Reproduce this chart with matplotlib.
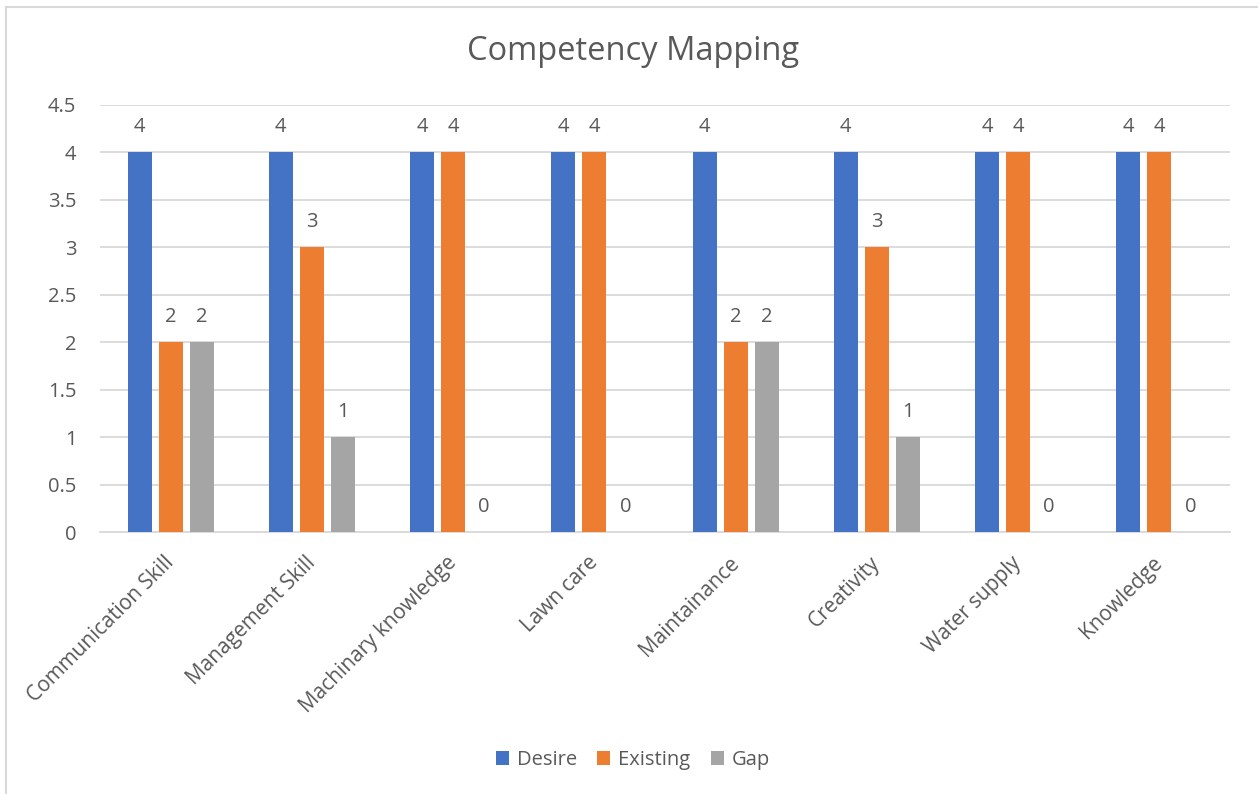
import matplotlib
matplotlib.use("Agg")
import matplotlib.pyplot as plt
from matplotlib.lines import Line2D
import numpy as np

# Chart data
categories = ["Communication Skill", "Management Skill", "Machinary knowledge",
              "Lawn care", "Maintainance", "Creativity", "Water supply", "Knowledge"]
desire = [4, 4, 4, 4, 4, 4, 4, 4]
existing = [2, 3, 4, 4, 2, 3, 4, 4]
gap = [2, 1, 0, 0, 2, 1, 0, 0]

series_names = ["Desire", "Existing", "Gap"]
series_colors = ["#4472C4", "#ED7D31", "#A5A5A5"]
yticks = [0, 0.5, 1, 1.5, 2, 2.5, 3, 3.5, 4, 4.5]

plt.rcParams["font.family"] = ["Open Sans", "DejaVu Sans"]
text_color = "#595959"
grid_color = "#D9D9D9"

W, H = 1258, 794
fig = plt.figure(figsize=(W / 100, H / 100), dpi=100)
fig.patch.set_facecolor("white")

ax = fig.add_axes([100 / W, 1 - 532 / H, (1230 - 100) / W, (532 - 105) / H])

x = np.arange(len(categories))
bar_w = 0.17
pitch = 0.22
offsets = [-pitch, 0, pitch]

for vals, name, col, off in zip([desire, existing, gap], series_names, series_colors, offsets):
    bars = ax.bar(x + off, vals, width=bar_w, color=col, label=name, zorder=3)
    for b, v in zip(bars, vals):
        ax.annotate(f"{v:g}", (b.get_x() + b.get_width() / 2, v),
                    xytext=(0, 18), textcoords="offset points",
                    ha="center", va="center", fontsize=14.5, color=text_color)

ax.set_xlim(-0.5, len(categories) - 0.5)
ax.set_ylim(0, 4.5)
ax.set_yticks(yticks)
ax.set_yticklabels([f"{t:g}" for t in yticks])
ax.yaxis.grid(True, color=grid_color, linewidth=1.3, zorder=0)
ax.set_axisbelow(True)
for s in ["top", "right", "left"]:
    ax.spines[s].set_visible(False)
ax.spines["bottom"].set_color(grid_color)
ax.spines["bottom"].set_linewidth(1.3)
ax.tick_params(axis="both", length=0, colors=text_color)
ax.tick_params(axis="y", pad=17, labelsize=14.5)

ax.set_xticks(x)
ax.set_xticklabels(categories, rotation=45, ha="right", va="center",
                   rotation_mode="anchor")
ax.tick_params(axis="x", pad=20, labelsize=15)
for lbl in ax.get_xticklabels():
    lbl.set_color(text_color)

fig.text(633 / W, 1 - 51 / H, "Competency Mapping", ha="center", va="center",
         fontsize=23.5, color=text_color)

ax.legend(loc="center", bbox_to_anchor=(633 / W, 1 - 760 / H),
          bbox_transform=fig.transFigure, ncol=3, frameon=False,
          fontsize=14.5, labelcolor=text_color, handlelength=0.65,
          handleheight=0.65, handletextpad=0.4, columnspacing=1.0)

# Chart area border
fig.add_artist(Line2D([6 / W, 6 / W], [0, 1 - 7 / H], transform=fig.transFigure,
                      color=grid_color, linewidth=1.5))
fig.add_artist(Line2D([6 / W, 1], [1 - 7 / H, 1 - 7 / H], transform=fig.transFigure,
                      color=grid_color, linewidth=1.5))

fig.savefig("out.png", dpi=100)
